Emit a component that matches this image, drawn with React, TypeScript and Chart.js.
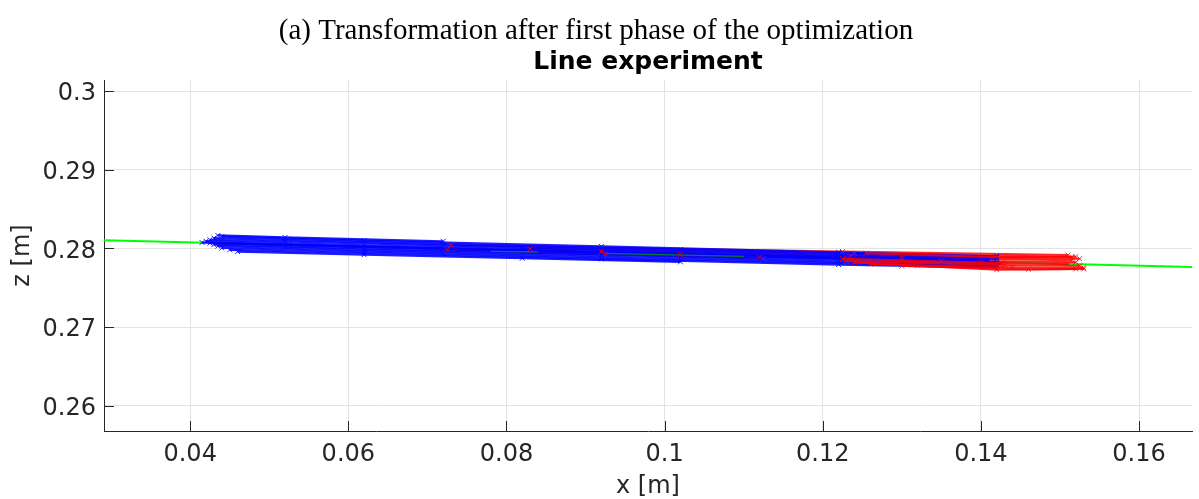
import React, { useEffect, useRef } from "react";
import { Chart, registerables } from "chart.js";

Chart.register(...registerables);

// ---------- data ----------
const titleText = "(a) Transformation after first phase of the optimization";
const subtitleText = "Line experiment";
const xLabel = "x [m]";
const yLabel = "z [m]";

const xTicks = [0.04, 0.06, 0.08, 0.1, 0.12, 0.14, 0.16];
const yTicks = [0.26, 0.27, 0.28, 0.29, 0.3];
const xRange = [0.0291, 0.1667];
const yRange = [0.2568, 0.3014];

// fitted reference line (green)
const greenLine: [number, number][] = [
  [0.02, 0.28125],
  [0.18, 0.2773],
];

// transformed trajectories (blue)
const bluePaths: [number, number][][] = [
  [[0.0435, 0.28165], [0.052, 0.2814], [0.072, 0.2809]],
  [[0.044, 0.2815], [0.062, 0.281], [0.092, 0.28025], [0.122, 0.2795], [0.142, 0.279]],
  [[0.043, 0.28132], [0.072, 0.28055], [0.102, 0.27985], [0.142, 0.27885]],
  [[0.0425, 0.2811], [0.052, 0.28088], [0.082, 0.28012], [0.112, 0.2794], [0.142, 0.27862]],
  [[0.042, 0.28092], [0.062, 0.2804], [0.092, 0.2797], [0.122, 0.27893], [0.141, 0.27845]],
  [[0.0425, 0.28068], [0.072, 0.27998], [0.102, 0.27922], [0.132, 0.2785], [0.142, 0.27824]],
  [[0.043, 0.28048], [0.052, 0.28025], [0.082, 0.2795], [0.112, 0.27878], [0.1425, 0.27802]],
  [[0.0435, 0.2803], [0.062, 0.27982], [0.092, 0.27908], [0.122, 0.27833], [0.142, 0.27784]],
  [[0.044, 0.28005], [0.072, 0.27938], [0.102, 0.27862], [0.132, 0.2779], [0.142, 0.27768]],
  [[0.045, 0.27982], [0.062, 0.27942], [0.092, 0.27868], [0.122, 0.27795], [0.142, 0.2776]],
  [[0.046, 0.2796], [0.062, 0.2792], [0.082, 0.27875], [0.102, 0.2783]],
  [[0.0415, 0.28075], [0.0525, 0.28045], [0.0825, 0.27975], [0.1125, 0.27905], [0.1225, 0.2788]],
];

// measured trajectories (red), long ones drawn below blue
const redPathsLong: [number, number][][] = [
  [[0.073, 0.2804], [0.1225, 0.2796], [0.151, 0.27915]],
  [[0.083, 0.27995], [0.124, 0.27935], [0.152, 0.27895]],
  [[0.092, 0.2796], [0.1235, 0.27905], [0.1525, 0.2787]],
  [[0.102, 0.27925], [0.13, 0.2788], [0.1515, 0.2785]],
  [[0.112, 0.2789], [0.135, 0.27845], [0.152, 0.27825]],
  [[0.0725, 0.27985], [0.0925, 0.2793], [0.1125, 0.2787]],
];

// red trajectories drawn on top at the right end
const redPathsShort: [number, number][][] = [
  [[0.1225, 0.2787], [0.14, 0.2782], [0.151, 0.278]],
  [[0.123, 0.2784], [0.143, 0.2779], [0.1525, 0.2778]],
  [[0.126, 0.278], [0.144, 0.2776], [0.153, 0.27755]],
  [[0.13, 0.27775], [0.146, 0.27735], [0.152, 0.2774]],
  [[0.124, 0.2782], [0.142, 0.2773], [0.153, 0.2774]],
  [[0.1255, 0.2794], [0.1415, 0.2789], [0.1515, 0.2789]],
];

// dark green segments inside the band
const darkGreenPaths: [number, number][][] = [
  [[0.078, 0.27963], [0.084, 0.27955]],
  [[0.0925, 0.27937], [0.11, 0.279]],
];

const BLUE = "rgba(0,0,255,0.88)";
const RED = "rgba(255,0,0,0.85)";
const AXIS = "#262626";

const toXY = (p: [number, number][]) => p.map(([x, y]) => ({ x, y }));

export default function App() {
  const ref = useRef<HTMLCanvasElement>(null);

  useEffect(() => {
    if (!ref.current) return;
    const datasets: any[] = [];
    datasets.push({
      data: toXY(greenLine),
      showLine: true,
      borderColor: "#00ff00",
      borderWidth: 2,
      pointRadius: 0,
      order: 20,
    });
    redPathsLong.forEach((p) =>
      datasets.push({
        data: toXY(p),
        showLine: true,
        borderColor: RED,
        borderWidth: 2,
        pointRadius: 0,
        order: 15,
      })
    );
    bluePaths.forEach((p) =>
      datasets.push({
        data: toXY(p),
        showLine: true,
        borderColor: BLUE,
        borderWidth: 2.2,
        pointStyle: "crossRot",
        pointRadius: 3.5,
        pointBorderWidth: 1,
        pointBorderColor: BLUE,
        order: 10,
      })
    );
    redPathsShort.forEach((p) =>
      datasets.push({
        data: toXY(p),
        showLine: true,
        borderColor: RED,
        borderWidth: 2,
        pointStyle: "crossRot",
        pointRadius: 3.5,
        pointBorderWidth: 1,
        pointBorderColor: RED,
        order: 6,
      })
    );
    darkGreenPaths.forEach((p) =>
      datasets.push({
        data: toXY(p),
        showLine: true,
        borderColor: "#0a7a2a",
        borderWidth: 1.2,
        pointRadius: 0,
        order: 4,
      })
    );
    // markers of the long red trajectories, visible on top of blue
    redPathsLong.forEach((p) =>
      datasets.push({
        data: toXY(p),
        showLine: false,
        pointStyle: "crossRot",
        pointRadius: 3.5,
        pointBorderWidth: 1,
        pointBorderColor: RED,
        pointBackgroundColor: RED,
        order: 2,
      })
    );

    const inwardTicks = {
      id: "inwardTicks",
      afterDatasetsDraw(chart: any) {
        const { ctx, chartArea } = chart;
        const xs = chart.scales.x;
        const ys = chart.scales.y;
        ctx.save();
        ctx.strokeStyle = AXIS;
        ctx.lineWidth = 1;
        ctx.beginPath();
        xTicks.forEach((v) => {
          const px = Math.round(xs.getPixelForValue(v)) + 0.5;
          ctx.moveTo(px, chartArea.bottom);
          ctx.lineTo(px, chartArea.bottom - 10);
        });
        yTicks.forEach((v) => {
          const py = Math.round(ys.getPixelForValue(v)) + 0.5;
          ctx.moveTo(chartArea.left, py);
          ctx.lineTo(chartArea.left + 10, py);
        });
        ctx.stroke();
        ctx.restore();
      },
    };

    const tickFont = { family: "'DejaVu Sans', sans-serif", size: 24 };
    const chart = new Chart(ref.current, {
      type: "scatter",
      data: { datasets },
      plugins: [inwardTicks],
      options: {
        animation: false,
        responsive: false,
        events: [],
        layout: { padding: { left: 0, right: 7, top: 0, bottom: 0 } },
        elements: { line: { tension: 0 } },
        datasets: { scatter: { clip: 0 } } as any,
        plugins: {
          legend: { display: false },
          tooltip: { enabled: false },
          title: {
            display: true,
            text: titleText,
            color: "#000",
            fullSize: true,
            font: { family: "'Liberation Serif', 'Times New Roman', serif", size: 29, weight: "normal", lineHeight: 1.2 },
            padding: { top: 14, bottom: 0 },
          },
          subtitle: {
            display: true,
            text: subtitleText,
            color: "#000",
            fullSize: false,
            font: { family: "'DejaVu Sans', sans-serif", size: 25, weight: "bold", lineHeight: 1.1 },
            padding: { top: 0, bottom: 3.7 },
          },
        },
        scales: {
          x: {
            type: "linear",
            min: xRange[0],
            max: xRange[1],
            afterFit: (s: any) => {
              s.height = 68;
            },
            afterBuildTicks: (s: any) => {
              s.ticks = xTicks.map((v) => ({ value: v }));
            },
            ticks: {
              color: AXIS,
              font: tickFont,
              padding: 9,
              maxRotation: 0,
              autoSkip: false,
              callback: (v: any) => String(Number(Number(v).toFixed(4))),
            },
            grid: { color: "#e3e3e3", drawTicks: false, lineWidth: 1 },
            border: { display: true, color: AXIS, width: 1 },
            title: {
              display: true,
              text: xLabel,
              color: AXIS,
              font: { family: "'DejaVu Sans', sans-serif", size: 24, lineHeight: 1.05 },
              padding: { top: 0, bottom: 0 },
            },
          },
          y: {
            type: "linear",
            min: yRange[0],
            max: yRange[1],
            afterFit: (s: any) => {
              s.width = 104;
            },
            afterBuildTicks: (s: any) => {
              s.ticks = yTicks.map((v) => ({ value: v }));
            },
            ticks: {
              color: AXIS,
              font: tickFont,
              padding: 8,
              labelOffset: 3,
              autoSkip: false,
              callback: (v: any) => String(Number(Number(v).toFixed(4))),
            },
            grid: { color: "#e3e3e3", drawTicks: false, lineWidth: 1 },
            border: { display: true, color: AXIS, width: 1 },
            title: {
              display: true,
              text: yLabel,
              color: AXIS,
              font: { family: "'DejaVu Sans', sans-serif", size: 24, lineHeight: 1.2 },
              padding: { top: 8, bottom: 0 },
            },
          },
        },
      },
    });
    return () => chart.destroy();
  }, []);

  return (
    <div style={{ position: "fixed", left: 0, top: 0, width: 1199, height: 499, background: "#fff" }}>
      <canvas ref={ref} width={1199} height={499} style={{ width: 1199, height: 499 }} />
    </div>
  );
}
